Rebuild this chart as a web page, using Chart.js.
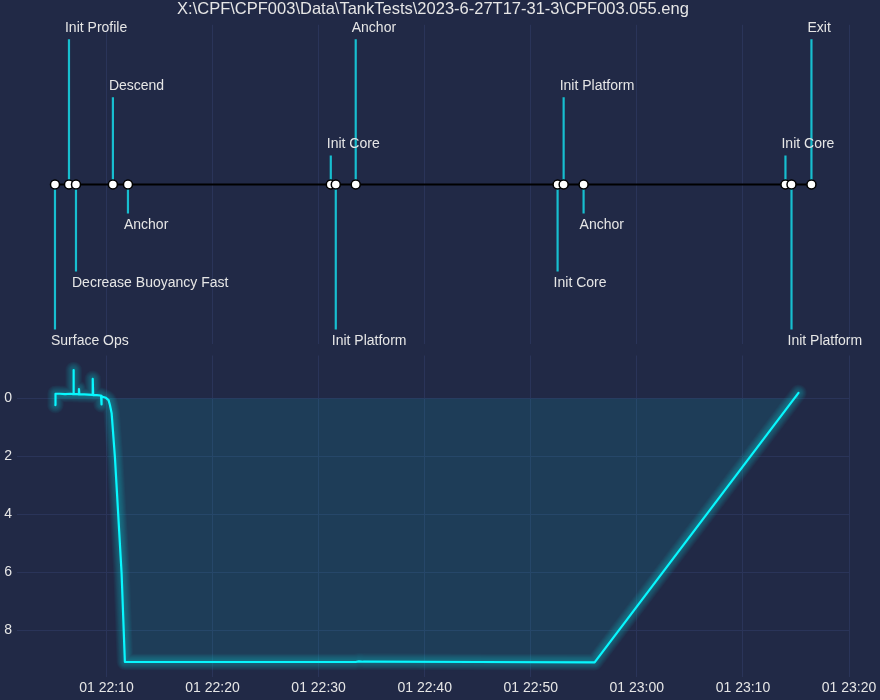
<!DOCTYPE html>
<html>
<head>
<meta charset="utf-8">
<script src="https://cdn.jsdelivr.net/npm/chart.js@4.4.1/dist/chart.umd.min.js"></script>
<style>
  html, body { margin: 0; padding: 0; background: #212946; }
  .panel { position: absolute; left: 0; width: 880px; height: 350px; }
  #top { top: 0; }
  #bottom { top: 350px; }
</style>
</head>
<body>
<div class="panel" id="top"><canvas id="timeline"></canvas></div>
<div class="panel" id="bottom"><canvas id="depth"></canvas></div>
<script>
// time is in minutes after 22:00 on the 1st
const TITLE = 'X:\\CPF\\CPF003\\Data\\TankTests\\2023-6-27T17-31-3\\CPF003.055.eng';

// mission events (top panel)
const EVENT_TIMES  = [5.15, 6.47, 7.13, 10.61, 12.03, 31.15, 31.62, 33.50, 52.53, 53.10, 54.98, 74.01, 74.58, 76.46];
const EVENT_NAMES  = ['Surface Ops', 'Init Profile', 'Decrease Buoyancy Fast', 'Descend', 'Anchor',
                      'Init Core', 'Init Platform', 'Anchor', 'Init Core', 'Init Platform', 'Anchor',
                      'Init Core', 'Init Platform', 'Exit'];
const EVENT_LEVELS = [-5, 5, -3, 3, -1, 1, -5, 5, -3, 3, -1, 1, -5, 5];

// depth record (bottom panel)
const DIVE_TIME  = [5.18, 5.20, 5.60, 6.10, 6.60, 6.85, 6.89, 6.93, 7.20, 7.38, 7.41, 7.45, 7.90, 8.30,
                    8.67, 8.71, 8.75, 9.10, 9.45, 9.49, 9.51, 9.53, 9.58, 9.80, 9.95, 10.20, 10.33, 10.49,
                    10.80, 11.43, 11.74, 20.0, 33.5, 33.8, 34.2, 45.0, 56.02, 75.24];
const DIVE_DEPTH = [0.23, -0.16, -0.16, -0.15, -0.16, -0.15, -0.98, -0.15, -0.15, -0.14, -0.32, -0.14, -0.14, -0.13,
                    -0.12, -0.67, -0.11, -0.11, -0.10, -0.09, 0.21, -0.08, -0.06, -0.04, -0.02, 0.06, 0.23, 0.51,
                    2.03, 6.04, 9.10, 9.10, 9.10, 9.08, 9.09, 9.10, 9.11, -0.19];

// ticks
const X_TICKS = [10, 20, 30, 40, 50, 60, 70, 80];
const X_TICK_LABELS = ['01 22:10', '01 22:20', '01 22:30', '01 22:40', '01 22:50', '01 23:00', '01 23:10', '01 23:20'];
const Y_TICKS = [0, 2, 4, 6, 8];

const X_MIN = 1.57, X_MAX = 80.0;
const GRID = '#2A3459';
const TEXT = '#e6e6e6';
const CYAN = '#08F7FE';

Chart.defaults.font.family = "'Liberation Sans', Arial, sans-serif";
Chart.defaults.font.size = 14;
Chart.defaults.color = TEXT;
Chart.defaults.animation = false;

// ---------- timeline ----------
const baseline = EVENT_TIMES.map(t => ({ x: t, y: 0 }));
const stems = [];
EVENT_TIMES.forEach((t, i) => {
  stems.push({ x: t, y: 0 }, { x: t, y: EVENT_LEVELS[i] }, { x: t, y: null });
});

const eventLabels = {
  id: 'eventLabels',
  afterDatasetsDraw(chart) {
    const { ctx, scales: { x, y } } = chart;
    ctx.save();
    ctx.font = "14px 'Liberation Sans', Arial, sans-serif";
    ctx.fillStyle = TEXT;
    ctx.textAlign = 'left';
    ctx.textBaseline = 'alphabetic';
    EVENT_NAMES.forEach((name, i) => {
      const lv = EVENT_LEVELS[i];
      const px = x.getPixelForValue(EVENT_TIMES[i]);
      const py = y.getPixelForValue(lv);
      ctx.fillText(name, px - 4, lv > 0 ? py - 7 : py + 16);
    });
    ctx.restore();
  }
};

new Chart(document.getElementById('timeline'), {
  type: 'line',
  data: {
    datasets: [
      { data: baseline, borderColor: '#000000', borderWidth: 2,
        pointRadius: 4.5, pointBackgroundColor: '#ffffff', pointBorderColor: '#000000', pointBorderWidth: 1.5 },
      { data: stems, borderColor: '#17becf', borderWidth: 2.2, pointRadius: 0, spanGaps: false }
    ]
  },
  options: {
    responsive: true,
    maintainAspectRatio: false,
    layout: { padding: { left: 17, right: 31, top: 0, bottom: 5 } },
    plugins: {
      legend: { display: false },
      tooltip: { enabled: false },
      title: { display: true, text: TITLE, color: TEXT,
               font: { size: 16.5, weight: 'normal' }, padding: { top: 0, bottom: 5 } }
    },
    scales: {
      x: {
        type: 'linear', min: X_MIN, max: X_MAX,
        afterBuildTicks: s => { s.ticks = X_TICKS.map(v => ({ value: v })); },
        afterFit: s => { s.height = 0; },
        ticks: { display: false },
        grid: { color: GRID, drawTicks: false },
        border: { display: false }
      },
      y: { type: 'linear', min: -5.5, max: 5.5, display: false }
    }
  },
  plugins: [eventLabels]
});

// ---------- depth ----------
const depthPts = DIVE_TIME.map((t, i) => ({ x: t, y: DIVE_DEPTH[i] }));
const depthSets = [{
  data: depthPts, borderColor: CYAN, borderWidth: 2.2, pointRadius: 0,
  fill: { value: 0 }, backgroundColor: 'rgba(8,247,254,0.1)',
  borderJoinStyle: 'round', borderCapStyle: 'round', order: 0
}];
for (let n = 1; n <= 10; n++) {
  depthSets.push({
    data: depthPts, borderColor: 'rgba(8,247,254,0.03)', borderWidth: 2.1 + 1.46 * n,
    pointRadius: 0, fill: false, borderJoinStyle: 'round', borderCapStyle: 'round', order: 1
  });
}

new Chart(document.getElementById('depth'), {
  type: 'line',
  data: { datasets: depthSets },
  options: {
    responsive: true,
    maintainAspectRatio: false,
    layout: { padding: { left: 0, right: 31, top: 5.5, bottom: 0 } },
    plugins: { legend: { display: false }, tooltip: { enabled: false } },
    scales: {
      x: {
        type: 'linear', min: X_MIN, max: X_MAX,
        afterBuildTicks: s => { s.ticks = X_TICKS.map(v => ({ value: v })); },
        afterFit: s => { s.height = 23.5; s.paddingLeft = 0; s.paddingRight = 0; },
        ticks: { callback: (v, i) => X_TICK_LABELS[i], autoSkip: false, maxRotation: 0, padding: 3 },
        grid: { color: GRID, drawTicks: false },
        border: { display: false }
      },
      y: {
        type: 'linear', reverse: true, min: -1.48, max: 9.60,
        afterBuildTicks: s => { s.ticks = Y_TICKS.map(v => ({ value: v })); },
        afterFit: s => { s.width = 17; s.paddingTop = 0; s.paddingBottom = 0; },
        ticks: { padding: 5 },
        grid: { color: GRID, drawTicks: false },
        border: { display: false }
      }
    }
  }
});
</script>
</body>
</html>
